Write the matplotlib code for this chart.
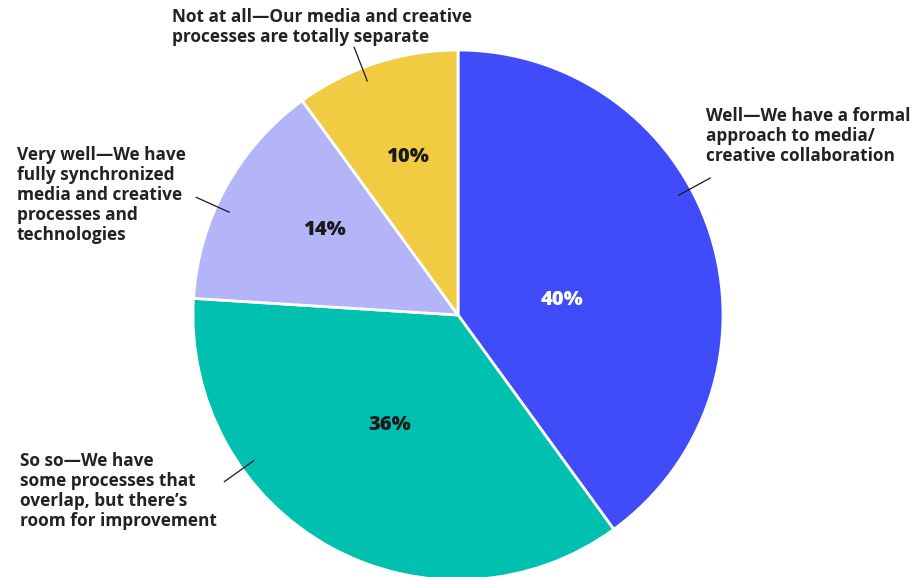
import numpy as np
import matplotlib.pyplot as plt

plt.rcParams['font.family'] = ['Open Sans', 'DejaVu Sans']

# survey shares, clockwise from 12 o'clock
labels = ['Well\u2014We have a formal\napproach to media/\ncreative collaboration',
          'So so\u2014We have\nsome processes that\noverlap, but there\u2019s\nroom for improvement',
          'Very well\u2014We have\nfully synchronized\nmedia and creative\nprocesses and\ntechnologies',
          'Not at all\u2014Our media and creative\nprocesses are totally separate']
values = [40, 36, 14, 10]
colors = ['#404CFA', '#00C0B0', '#B4B4F8', '#F1CB42']
pct_colors = ['white', '#1a1a1a', '#1a1a1a', '#1a1a1a']

W, H = 921, 577
cx, cy, R = 458, H - 315, 265

fig = plt.figure(figsize=(9.21, 5.77), dpi=100)
ax = fig.add_axes([0, 0, 1, 1])
ax.set_xlim(0, W)
ax.set_ylim(0, H)
ax.set_aspect('equal')
ax.axis('off')

wedges, _ = ax.pie(values, colors=colors, startangle=90, counterclock=False,
                   center=(cx, cy), radius=R,
                   wedgeprops=dict(edgecolor='white', linewidth=2))
ax.set_xlim(0, W)
ax.set_ylim(0, H)

# percent labels (pixel positions from the top-left)
pct_pos = [(562, 300), (390, 425), (325, 230), (408, 157)]
for v, (px, py), c in zip(values, pct_pos, pct_colors):
    ax.text(px, H - py, f'{v}%', ha='center', va='center', fontsize=14.5,
            fontweight=800, color=c)

# leader lines (angle in degrees, from r=251 to r=287)
lead_ang = [28.5, 215.5, 155.8, 111.2]
for a in lead_ang:
    t = np.radians(a)
    ax.plot([cx + 251 * np.cos(t), cx + 287 * np.cos(t)],
            [cy + 251 * np.sin(t), cy + 287 * np.sin(t)],
            color='#1a1a1a', lw=0.9)

# category labels: left x, top y of first line
lab_pos = [(706, 107), (20, 452), (17, 146), (172, 8)]
for lab, (px, py) in zip(labels, lab_pos):
    ax.text(px, H - py, lab, ha='left', va='top', fontsize=12.4,
            fontweight='bold', color='#222222', linespacing=1.15)

fig.savefig('out.png', dpi=100)
